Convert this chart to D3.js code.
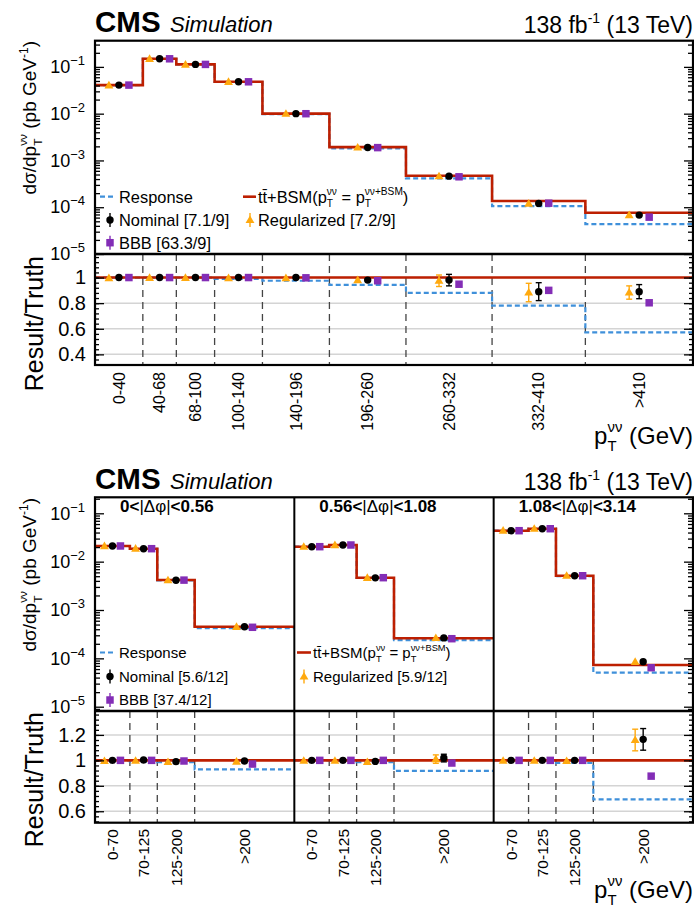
<!DOCTYPE html>
<html>
<head>
<meta charset="utf-8">
<script src="https://cdn.jsdelivr.net/npm/d3@7"></script>
<style>
  body { margin: 0; background: #fff; }
  svg { display: block; font-family: "Liberation Sans", Arial, Helvetica, sans-serif; }
</style>
</head>
<body>
<svg id="chart" width="694" height="908"></svg>
<script>
// ---- top figure: inclusive pT(vv) ----
var binsPt = ["0-40", "40-68", "68-100", "100-140", "140-196", "196-260", "260-332", "332-410", ">410"];
var edgesPt = [0, 40, 68, 100, 140, 196, 260, 332, 410, 500];   // 500 = where the last bin is drawn to
var truthPt = [0.0408, 0.149, 0.113, 0.048, 0.0100, 0.00193, 4.71e-4, 1.355e-4, 7.63e-5];
var responsePt = [0.0408, 0.149, 0.113, 0.0475, 0.00975, 0.00182, 4.15e-4, 1.057e-4, 4.36e-5];
var nominalPt = [0.0408, 0.149, 0.113, 0.048, 0.0100, 0.00189, 4.62e-4, 1.206e-4, 6.79e-5];
var regularizedPt = [0.0402, 0.148, 0.112, 0.0478, 0.00995, 0.00189, 4.59e-4, 1.196e-4, 6.74e-5];
var bbbPt = [0.0408, 0.149, 0.113, 0.048, 0.00998, 0.00188, 4.47e-4, 1.22e-4, 6.13e-5];
// result / truth
var responsePtR = [1.0, 1.0, 1.0, 0.99, 0.975, 0.943, 0.881, 0.78, 0.572];
var nominalPtR = [1.0, 1.0, 1.0, 1.0, 1.0, 0.98, 0.98, 0.89, 0.89];
var nominalPtErr = [0.005, 0.005, 0.005, 0.006, 0.008, 0.02, 0.045, 0.07, 0.055];
var regularizedPtR = [0.995, 0.997, 0.997, 0.996, 0.995, 0.98, 0.975, 0.883, 0.883];
var regularizedPtErr = [0.005, 0.005, 0.005, 0.006, 0.008, 0.02, 0.045, 0.072, 0.052];
var bbbPtR = [1.0, 1.0, 1.0, 1.0, 0.998, 0.975, 0.948, 0.90, 0.803];
var bbbPtErr = [0.003, 0.003, 0.003, 0.004, 0.005, 0.008, 0.01, 0.012, 0.015];
var chi2Pt = ["7.1/9", "7.2/9", "63.3/9"];   // nominal, regularized, BBB

// ---- bottom figure: pT(vv) in |dphi| slices ----
var dphiLow = ["0", "0.56", "1.08"];
var dphiHigh = ["0.56", "1.08", "3.14"];
var binsDphi = ["0-70", "70-125", "125-200", ">200"];
var edgesDphi = [0, 70, 125, 200, 400];
var truthDphi = [[0.0211, 0.01855, 0.00417, 4.52e-4], [0.0204, 0.0221, 0.00466, 2.6e-4], [0.0437, 0.048, 0.00512, 7.3e-5]];
var responseDphi = [[0.0211, 0.01836, 0.00411, 4.2e-4], [0.0204, 0.0221, 0.00459, 2.39e-4], [0.0437, 0.048, 0.00502, 5.06e-5]];
var nominalDphi = [[0.0211, 0.01855, 0.00413, 4.5e-4], [0.0204, 0.0221, 0.00462, 2.65e-4], [0.0437, 0.048, 0.00512, 8.5e-5]];
var regularizedDphi = [[0.0210, 0.0185, 0.00412, 4.47e-4], [0.0203, 0.0220, 0.0046, 2.63e-4], [0.0436, 0.0479, 0.0051, 8.47e-5]];
var bbbDphi = [[0.0211, 0.01855, 0.00415, 4.39e-4], [0.0204, 0.0221, 0.00466, 2.55e-4], [0.0437, 0.048, 0.00512, 6.4e-5]];
var responseDphiR = [[1.0, 0.99, 0.985, 0.929], [1.0, 1.0, 0.985, 0.918], [1.0, 1.0, 0.981, 0.693]];
var nominalDphiR = [[1.0, 1.003, 0.99, 0.995], [1.0, 1.0, 0.992, 1.018], [1.0, 1.0, 1.0, 1.165]];
var nominalDphiErr = [[0.005, 0.005, 0.006, 0.01], [0.005, 0.005, 0.006, 0.03], [0.005, 0.005, 0.006, 0.085]];
var regularizedDphiR = [[0.995, 0.997, 0.987, 0.99], [0.997, 0.997, 0.987, 1.01], [0.997, 0.997, 0.995, 1.16]];
var regularizedDphiErr = [[0.005, 0.005, 0.006, 0.01], [0.005, 0.005, 0.006, 0.033], [0.005, 0.005, 0.006, 0.085]];
var bbbDphiR = [[1.0, 1.0, 0.995, 0.971], [1.0, 1.0, 1.0, 0.979], [1.0, 1.0, 1.0, 0.876]];
var bbbDphiErr = [[0.003, 0.003, 0.004, 0.006], [0.003, 0.003, 0.004, 0.008], [0.003, 0.003, 0.004, 0.01]];
var chi2Dphi = ["5.6/12", "5.9/12", "37.4/12"];

var decadeTicks = [1e-6, 1e-5, 1e-4, 1e-3, 1e-2, 1e-1];
var ratioTicksPt = [0.4, 0.6, 0.8, 1];
var ratioTicksDphi = [0.6, 0.8, 1, 1.2];

var RED = "#bd1f01", BLUE = "#3f90da", ORANGE = "#ffa90e", PURPLE = "#832db6";

var svg = d3.select("#chart");
var X0 = 95, X1 = 693;

// scales
var xPt = d3.scaleLinear().domain([0, 500]).range([X0, X1]);
var yPtMain = d3.scaleLog().domain([1e-5, 0.363]).range([254, 40.7]);
var yPtRatio = d3.scaleLinear().domain([0.317, 1.184]).range([365, 254]);

var panelW = (X1 - X0) / 3;
var xDphi = [0, 1, 2].map(function(i) {
  return d3.scaleLinear().domain([0, 400]).range([X0 + i * panelW, X0 + (i + 1) * panelW]);
});
var yDphiMain = d3.scaleLog().domain([8.15e-6, 0.2143]).range([711, 497.3]);
var yDphiRatio = d3.scaleLinear().domain([0.51, 1.388]).range([822.7, 711]);

// p_T with stacked sub/superscript, returns the dy that brings the baseline back
function addPt(t, fs, sup) {
  t.append("tspan").text("p");
  var sub = t.append("tspan").attr("font-size", fs * 0.62).attr("dy", fs * 0.3).text("T");
  var w = sub.node().getComputedTextLength();
  t.append("tspan").attr("font-size", fs * 0.62).attr("dx", -w).attr("dy", -fs * 0.78).text(sup);
  return fs * 0.48;
}

function marker(g, kind, cx, cy) {
  if (kind == "nom") {
    g.append("circle").attr("cx", cx).attr("cy", cy).attr("r", 3.7).attr("fill", "#000");
  } else if (kind == "reg") {
    g.append("path").attr("d", d3.symbol(d3.symbolTriangle, 34)())
      .attr("transform", "translate(" + cx + "," + (cy + 0.5) + ")").attr("fill", ORANGE);
  } else {
    g.append("path").attr("d", d3.symbol(d3.symbolSquare, 56)())
      .attr("transform", "translate(" + cx + "," + cy + ")").attr("fill", PURPLE);
  }
}

function errBar(g, kind, cx, y1, y2) {
  var col = kind == "nom" ? "#000" : kind == "reg" ? ORANGE : PURPLE;
  g.append("line").attr("x1", cx).attr("x2", cx).attr("y1", y1).attr("y2", y2)
    .attr("stroke", col).attr("stroke-width", 1.4);
  if (kind != "bbb" && Math.abs(y2 - y1) > 6) {
    [y1, y2].forEach(function(yy) {
      g.append("line").attr("x1", cx - 3).attr("x2", cx + 3).attr("y1", yy).attr("y2", yy)
        .attr("stroke", col).attr("stroke-width", 1.4);
    });
  }
}

function stepPoints(edges, vals) {
  var pts = [];
  vals.forEach(function(v, i) { pts.push([edges[i], v]); pts.push([edges[i + 1], v]); });
  return pts;
}

// one main + ratio panel
function drawPanel(x, yM, yR, edges, truth, resp, nom, reg, bbb, respR, nomR, nomE, regR, regE, bbbR, bbbE, off, gridTicks) {
  var g = svg.append("g");
  var centers = truth.map(function(d, i) { return (x(edges[i]) + x(edges[i + 1])) / 2; });
  var lineM = d3.line().x(function(d) { return x(d[0]); }).y(function(d) { return yM(d[1]); });
  var lineR = d3.line().x(function(d) { return x(d[0]); }).y(function(d) { return yR(d[1]); });
  var xa = x(edges[0]), xb = x(edges[edges.length - 1]);

  // ratio grid + bin boundaries
  gridTicks.forEach(function(t) {
    g.append("line").attr("x1", xa).attr("x2", xb).attr("y1", yR(t)).attr("y2", yR(t))
      .attr("stroke", "#d4d4d4").attr("stroke-width", 1.5);
  });
  edges.slice(1, -1).forEach(function(e) {
    g.append("line").attr("x1", x(e)).attr("x2", x(e)).attr("y1", yR.range()[1]).attr("y2", yR.range()[0])
      .attr("stroke", "#444").attr("stroke-width", 1.3).attr("stroke-dasharray", "7,5");
  });

  // main: response + truth
  g.append("path").attr("d", lineM(stepPoints(edges, resp))).attr("fill", "none")
    .attr("stroke", BLUE).attr("stroke-width", 2.2).attr("stroke-dasharray", "5,3");
  g.append("path").attr("d", lineM(stepPoints(edges, truth))).attr("fill", "none")
    .attr("stroke", RED).attr("stroke-width", 2.6);
  // ratio: response/truth + unity
  g.append("path").attr("d", lineR(stepPoints(edges, respR))).attr("fill", "none")
    .attr("stroke", BLUE).attr("stroke-width", 2.2).attr("stroke-dasharray", "5,3");
  g.append("path").attr("d", lineR([[edges[0], 1], [edges[edges.length - 1], 1]])).attr("fill", "none")
    .attr("stroke", RED).attr("stroke-width", 2.6);

  var sets = [["reg", reg, regR, regE, -off], ["nom", nom, nomR, nomE, 0], ["bbb", bbb, bbbR, bbbE, off]];
  sets.forEach(function(s) {
    s[1].forEach(function(v, i) {
      var cx = centers[i] + s[4];
      marker(g, s[0], cx, yM(v));
      errBar(g, s[0], cx, yR(s[2][i] - s[3][i]), yR(s[2][i] + s[3][i]));
      marker(g, s[0], cx, yR(s[2][i]));
    });
  });
  return centers;
}

function binLabels(labels, centers, y0, fs) {
  labels.forEach(function(l, i) {
    svg.append("text").attr("transform", "translate(" + centers[i] + "," + y0 + ") rotate(-90)")
      .attr("text-anchor", "end").attr("dy", "0.36em").attr("font-size", fs).text(l);
  });
}

function logAxis(yS) {
  var dom = yS.domain();
  var decs = decadeTicks.filter(function(d) { return d >= dom[0] * 0.999 && d <= dom[1]; });
  var minors = [];
  decadeTicks.forEach(function(d) {
    for (var k = 2; k < 10; k++) if (k * d > dom[0] && k * d < dom[1]) minors.push(k * d);
  });
  var gl = svg.append("g").attr("transform", "translate(" + X0 + ",0)")
    .call(d3.axisLeft(yS).tickValues(decs).tickSize(-9).tickPadding(10).tickFormat(""));
  gl.selectAll(".tick text").each(function(d) {
    var t = d3.select(this).attr("font-size", 18);
    t.append("tspan").text("10");
    t.append("tspan").attr("font-size", 13).attr("dy", -8).text("\u2212" + Math.round(-Math.log10(d)));
  });
  svg.append("g").attr("transform", "translate(" + X0 + ",0)")
    .call(d3.axisLeft(yS).tickValues(minors).tickSize(-5).tickFormat(""));
  svg.append("g").attr("transform", "translate(" + X1 + ",0)")
    .call(d3.axisLeft(yS).tickValues(decs).tickSize(9).tickFormat(""));
  svg.append("g").attr("transform", "translate(" + X1 + ",0)")
    .call(d3.axisLeft(yS).tickValues(minors).tickSize(5).tickFormat(""));
}

function ratioAxis(yS, ticks) {
  var dom = yS.domain();
  var minors = d3.range(-20, 30).map(function(i) { return 0.4 + i * 0.04; })
    .filter(function(v) { return v > dom[0] && v < dom[1]; });
  svg.append("g").attr("transform", "translate(" + X0 + ",0)")
    .call(d3.axisLeft(yS).tickValues(ticks).tickSize(-9).tickPadding(9)
      .tickFormat(function(d) { return String(+d.toFixed(1)); }))
    .selectAll("text").attr("font-size", 20);
  svg.append("g").attr("transform", "translate(" + X0 + ",0)")
    .call(d3.axisLeft(yS).tickValues(minors).tickSize(-4).tickFormat(""));
  svg.append("g").attr("transform", "translate(" + X1 + ",0)")
    .call(d3.axisLeft(yS).tickValues(ticks).tickSize(9).tickFormat(""));
  svg.append("g").attr("transform", "translate(" + X1 + ",0)")
    .call(d3.axisLeft(yS).tickValues(minors).tickSize(4).tickFormat(""));
}

function header(dy) {
  svg.append("text").attr("x", X0).attr("y", 32 + dy).attr("font-size", 29.5).attr("font-weight", "bold").text("CMS");
  svg.append("text").attr("x", 170).attr("y", 32 + dy).attr("font-size", 22).attr("font-style", "italic").text("Simulation");
  var t = svg.append("text").attr("x", X1).attr("y", 33 + dy).attr("font-size", 23).attr("text-anchor", "end");
  t.append("tspan").text("138 fb");
  t.append("tspan").attr("font-size", 14).attr("dy", -10).text("-1");
  t.append("tspan").attr("dy", 10).text(" (13 TeV)");
}

function yTitles(yTop, yRatioTop) {
  var t = svg.append("text").attr("transform", "translate(36," + yTop + ") rotate(-90)")
    .attr("text-anchor", "end").attr("font-size", 19);
  t.append("tspan").text("d\u03c3/d");
  var back = addPt(t, 19, "\u03bd\u03bd");
  t.append("tspan").attr("dy", back).text(" (pb GeV");
  t.append("tspan").attr("font-size", 12).attr("dy", -8).text("-1");
  t.append("tspan").attr("dy", 8).text(")");
  svg.append("text").attr("transform", "translate(43," + yRatioTop + ") rotate(-90)")
    .attr("text-anchor", "end").attr("font-size", 25).text("Result/Truth");
}

function xTitle(y) {
  var t = svg.append("text").attr("x", X1).attr("y", y).attr("text-anchor", "end").attr("font-size", 24);
  var back = addPt(t, 24, "\u03bd\u03bd");
  t.append("tspan").attr("dy", back).text(" (GeV)");
}

function frames(yA, yB, yC, dividers) {
  var f = svg.append("g").attr("fill", "none").attr("stroke", "#000");
  f.append("rect").attr("x", X0).attr("y", yA).attr("width", X1 - X0).attr("height", yC - yA).attr("stroke-width", 2.2);
  f.append("line").attr("x1", X0).attr("x2", X1).attr("y1", yB).attr("y2", yB).attr("stroke-width", 2.6);
  dividers.forEach(function(xv) {
    f.append("line").attr("x1", xv).attr("x2", xv).attr("y1", yA).attr("y2", yC).attr("stroke-width", 2);
  });
}

// legend pieces
function legDash(x1, x2, y) {
  svg.append("line").attr("x1", x1).attr("x2", x2).attr("y1", y).attr("y2", y)
    .attr("stroke", BLUE).attr("stroke-width", 2.2).attr("stroke-dasharray", "5,3");
}
function legRed(x1, x2, y) {
  svg.append("line").attr("x1", x1).attr("x2", x2).attr("y1", y).attr("y2", y)
    .attr("stroke", RED).attr("stroke-width", 2.6);
}
function legMark(kind, x, y) {
  var g = svg.append("g");
  var col = kind == "nom" ? "#000" : kind == "reg" ? ORANGE : PURPLE;
  g.append("line").attr("x1", x).attr("x2", x).attr("y1", y - 7).attr("y2", y + 7)
    .attr("stroke", col).attr("stroke-width", 1.4);
  marker(g, kind, x, y);
}
function legText(x, y, fs, s) {
  return svg.append("text").attr("x", x).attr("y", y).attr("font-size", fs).text(s);
}
function legTruth(x, y, fs) {
  var t = svg.append("text").attr("x", x).attr("y", y).attr("font-size", fs);
  t.append("tspan").text("tt\u0304+BSM(");
  var b = addPt(t, fs, "\u03bd\u03bd");
  t.append("tspan").attr("dy", b).text(" = ");
  b = addPt(t, fs, "\u03bd\u03bd+BSM");
  t.append("tspan").attr("dy", b).text(")");
}

// ================= top figure =================
var cPt = drawPanel(xPt, yPtMain, yPtRatio, edgesPt, truthPt, responsePt, nominalPt, regularizedPt, bbbPt,
  responsePtR, nominalPtR, nominalPtErr, regularizedPtR, regularizedPtErr, bbbPtR, bbbPtErr, 10, ratioTicksPt);
logAxis(yPtMain);
ratioAxis(yPtRatio, ratioTicksPt);
frames(40.7, 254, 365, []);
binLabels(binsPt, cPt, 372, 16);
header(0);
yTitles(41, 256);
xTitle(444);

legDash(100, 116, 196.7);
legText(119, 202.5, 16.4, "Response");
legRed(243, 256, 196.7);
legTruth(258, 202.5, 16.4);
legMark("nom", 110, 220);
legText(119, 225.8, 16.4, "Nominal [" + chi2Pt[0] + "]");
legMark("reg", 250, 220);
legText(258, 225.8, 16.4, "Regularized [" + chi2Pt[1] + "]");
legMark("bbb", 110, 242.7);
legText(119, 248.5, 16.4, "BBB [" + chi2Pt[2] + "]");

// ================= bottom figure =================
[0, 1, 2].forEach(function(p) {
  var c = drawPanel(xDphi[p], yDphiMain, yDphiRatio, edgesDphi, truthDphi[p], responseDphi[p], nominalDphi[p],
    regularizedDphi[p], bbbDphi[p], responseDphiR[p], nominalDphiR[p], nominalDphiErr[p],
    regularizedDphiR[p], regularizedDphiErr[p], bbbDphiR[p], bbbDphiErr[p], 8, ratioTicksDphi);
  binLabels(binsDphi, c, 829, 15.5);
  var t = svg.append("text").attr("x", xDphi[p].range()[0] + 25).attr("y", 512).attr("font-size", 17);
  t.append("tspan").attr("font-weight", "bold").text(dphiLow[p] + "<");
  t.append("tspan").text("|\u0394\u03c6|");
  t.append("tspan").attr("font-weight", "bold").text("<" + dphiHigh[p]);
});
logAxis(yDphiMain);
ratioAxis(yDphiRatio, ratioTicksDphi);
frames(497.3, 711, 822.7, [xDphi[1].range()[0], xDphi[2].range()[0]]);
header(456.6);
yTitles(498, 712);
xTitle(898);

legDash(100, 116, 652.5);
legText(119, 657.8, 15, "Response");
legMark("nom", 110, 676.5);
legText(119, 681.8, 15, "Nominal [" + chi2Dphi[0] + "]");
legMark("bbb", 110, 700);
legText(119, 705.3, 15, "BBB [" + chi2Dphi[2] + "]");
legRed(297, 311, 652.5);
legTruth(313, 657.8, 15);
legMark("reg", 304, 676.5);
legText(313, 681.8, 15, "Regularized [" + chi2Dphi[1] + "]");

svg.selectAll(".domain").remove();
svg.selectAll(".tick line").attr("stroke-width", 1.3);
svg.selectAll(".tick text").attr("font-family", null);
</script>
</body>
</html>
